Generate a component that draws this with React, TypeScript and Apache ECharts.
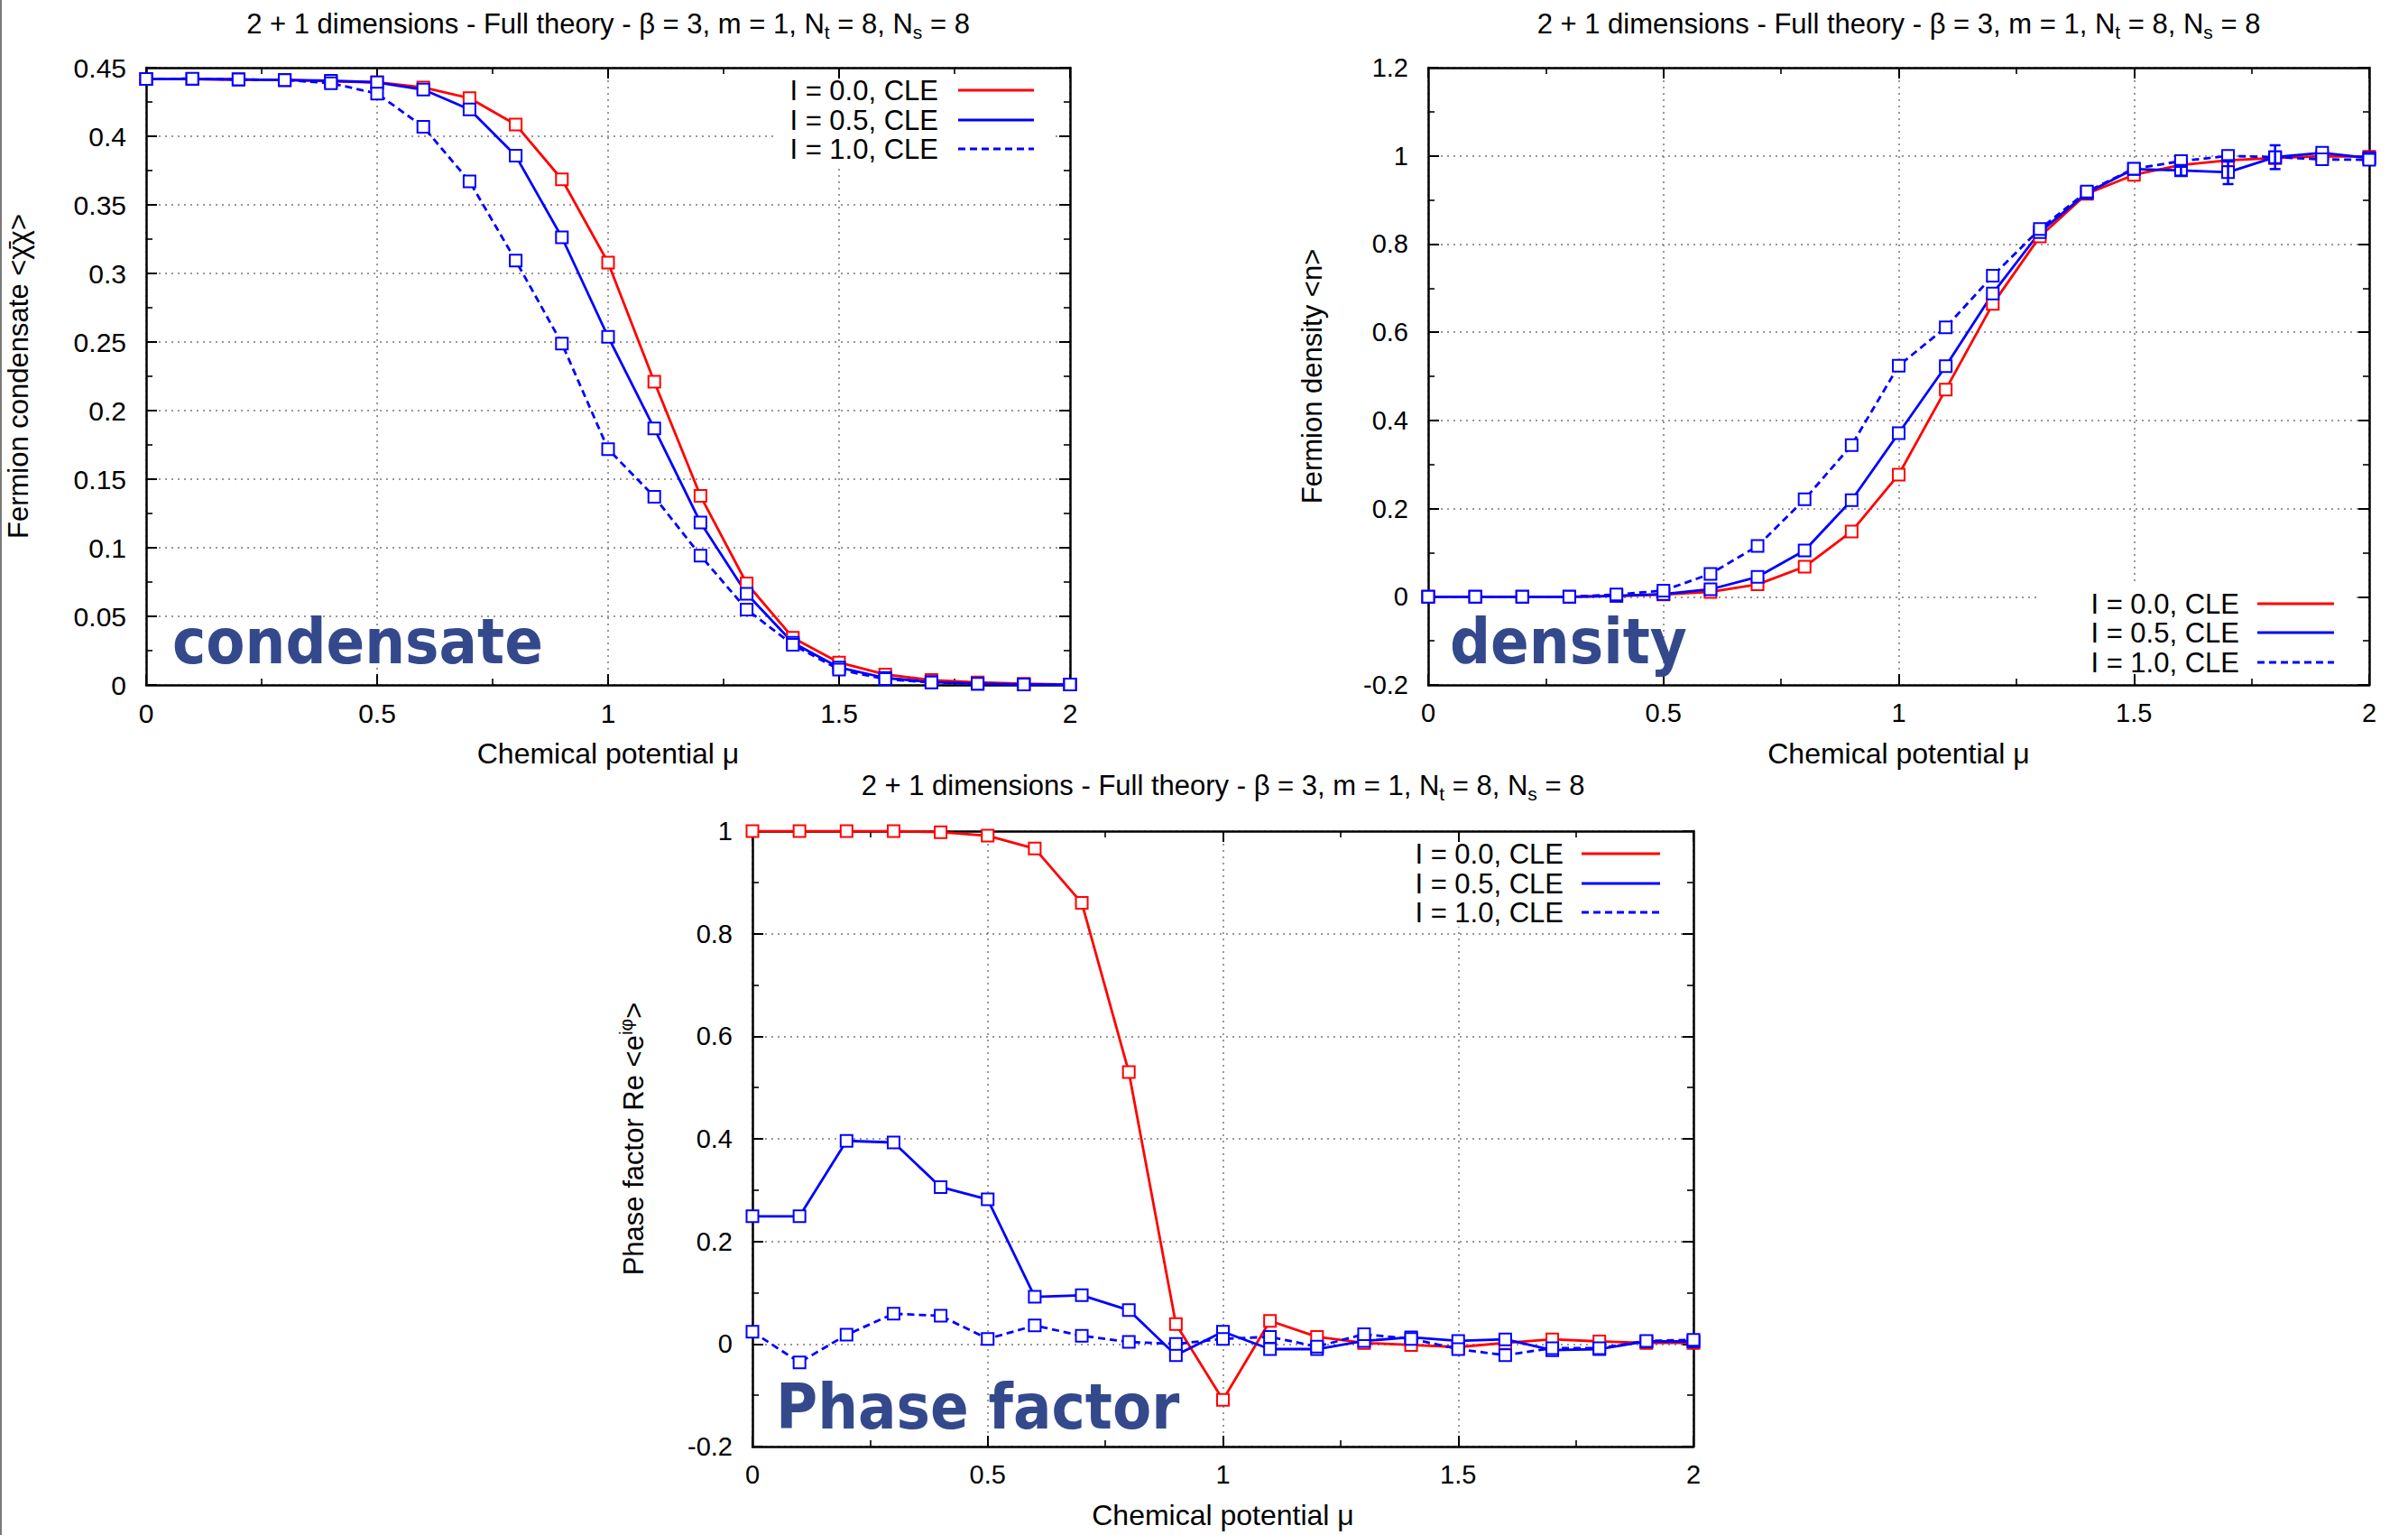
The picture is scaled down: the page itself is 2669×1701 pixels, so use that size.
import React, { useEffect, useRef } from "react";
import * as echarts from "echarts";

// ---------------- data ----------------
const mu = [0, 0.1, 0.2, 0.3, 0.4, 0.5, 0.6, 0.7, 0.8, 0.9, 1.0, 1.1, 1.2, 1.3, 1.4, 1.5, 1.6, 1.7, 1.8, 1.9, 2.0];
const seriesNames = ["I = 0.0, CLE", "I = 0.5, CLE", "I = 1.0, CLE"];

const condI00 = [0.4417, 0.4417, 0.4414, 0.441, 0.44, 0.4393, 0.4356, 0.4278, 0.4085, 0.3686, 0.3079, 0.2211, 0.1378, 0.074, 0.0344, 0.0163, 0.0076, 0.0036, 0.0018, 0.0009, 0.0003];
const condI05 = [0.4417, 0.4417, 0.4414, 0.441, 0.4405, 0.4393, 0.434, 0.4196, 0.3858, 0.3263, 0.2538, 0.187, 0.1184, 0.0665, 0.0308, 0.0127, 0.0051, 0.0021, 0.0009, 0.0003, 0.0003];
const condI10 = [0.4417, 0.442, 0.4414, 0.441, 0.4387, 0.4311, 0.4069, 0.3671, 0.3094, 0.2489, 0.1719, 0.1372, 0.0943, 0.055, 0.0293, 0.0112, 0.0042, 0.0018, 0.0009, 0.0003, 0.0003];

const densI00 = [0, 0, 0, 0, 0.002, 0.005, 0.011, 0.028, 0.068, 0.148, 0.277, 0.47, 0.664, 0.817, 0.914, 0.957, 0.979, 0.99, 0.995, 0.999, 0.998];
const densI05 = [0, 0, 0, 0, 0.002, 0.006, 0.017, 0.045, 0.105, 0.219, 0.371, 0.523, 0.688, 0.827, 0.916, 0.97, 0.967, 0.963, 0.997, 1.007, 0.995];
const densI10 = [0, 0, 0, 0, 0.005, 0.014, 0.052, 0.115, 0.221, 0.344, 0.524, 0.611, 0.728, 0.834, 0.919, 0.971, 0.988, 1.0, 0.997, 0.992, 0.991];

const phaseI00 = [1.0, 1.0, 1.0, 1.0, 0.998, 0.991, 0.966, 0.86, 0.53, 0.039, -0.109, 0.045, 0.014, 0.002, -0.002, -0.006, 0.002, 0.009, 0.005, 0.002, 0.002];
const phaseI05 = [0.249, 0.249, 0.396, 0.393, 0.306, 0.282, 0.092, 0.095, 0.066, -0.022, 0.024, -0.01, -0.01, 0.006, 0.013, 0.006, 0.009, -0.012, -0.01, 0.005, 0.005];
const phaseI10 = [0.024, -0.036, 0.018, 0.059, 0.055, 0.01, 0.036, 0.016, 0.004, 0.0, 0.01, 0.014, -0.005, 0.019, 0.01, -0.01, -0.022, -0.008, -0.008, 0.006, 0.008];

// error bars [mu, value, error]
const densErrI05 = [[1.6, 0.967, 0.012], [1.7, 0.963, 0.027]];
const densErrI10 = [[1.8, 0.997, 0.027]];

// axis ranges [min, max, interval]
const xRange = [0, 2, 0.5];
const condRange = [0, 0.45, 0.05];
const densRange = [-0.2, 1.2, 0.2];
const phaseRange = [-0.2, 1, 0.2];

const titleText = "{a|2 + 1 dimensions - Full theory - β = 3, m = 1, N}{s|t}{a| = 8, N}{s|s}{a| = 8}";
const xName = "Chemical potential μ";
const yNames = ["Fermion condensate <χ̄χ>", "Fermion density <n>", "{a|Phase factor Re <e}{p|iφ}{a|>}"];
const tags = ["condensate", "density", "Phase factor"];

// ---------------- styling / layout ----------------
const FONT = "Liberation Sans, Arial, Helvetica, sans-serif";
const RED = "#ff0000";
const BLUE = "#0000ff";
const colors = [RED, BLUE, BLUE];
const TAG_COLOR = "#34498c";

const panels = [
  {
    grid: { left: 162, top: 75, width: 1024, height: 684 },
    yRange: condRange,
    series: [condI00, condI05, condI10],
    errs: [[], [], []],
    yNameGap: 126,
    tickFont: 30,
    legend: { textRight: 1040, x1: 1062, x2: 1146, rows: [100, 133, 165], box: [860, 89, 310, 93] },
    tag: { x: 191, baseline: 735 },
    titleY: 26,
  },
  {
    grid: { left: 1583, top: 75, width: 1043, height: 684 },
    yRange: densRange,
    series: [densI00, densI05, densI10],
    errs: [[], densErrI05, densErrI10],
    yNameGap: 113,
    tickFont: 29,
    legend: { textRight: 2482, x1: 2502, x2: 2587, rows: [669, 701, 734], box: [2259, 647, 352, 98] },
    tag: { x: 1607, baseline: 735 },
    titleY: 26,
  },
  {
    grid: { left: 834, top: 921, width: 1043, height: 682 },
    yRange: phaseRange,
    series: [phaseI00, phaseI05, phaseI10],
    errs: [[], [], []],
    yNameGap: 112,
    tickFont: 29,
    legend: { textRight: 1733, x1: 1753, x2: 1840, rows: [946, 979, 1011], box: [1554, 935, 310, 92] },
    tag: { x: 860, baseline: 1583 },
    titleY: 870,
  },
];

function buildOption() {
  const grids: any[] = [];
  const xAxes: any[] = [];
  const yAxes: any[] = [];
  const series: any[] = [];
  const graphic: any[] = [];

  graphic.push({ type: "rect", shape: { x: 0, y: 0, width: 2, height: 1701 }, style: { fill: "#7a7a7a" }, z: 20 });

  const axisLine = { show: true, onZero: false, lineStyle: { color: "#000", width: 2.5 } };
  const axisTick = { show: true, inside: true, length: 12, lineStyle: { color: "#000", width: 2 } };
  const minorTick = { show: true, splitNumber: 2, length: 7, lineStyle: { color: "#000", width: 1.6 } };
  const splitLine = { show: true, lineStyle: { color: "#777", width: 1.5, type: [2, 5] } };

  panels.forEach((p, pi) => {
    grids.push({ ...p.grid, containLabel: false, show: false });
    const [ymin, ymax, yint] = p.yRange;
    const [xmin, xmax, xint] = xRange;

    xAxes.push({
      type: "value", gridIndex: pi, position: "bottom", min: xmin, max: xmax, interval: xint,
      axisLine, axisTick, minorTick, splitLine, minorSplitLine: { show: false },
      axisLabel: { show: true, fontSize: p.tickFont, color: "#000", fontFamily: FONT, margin: 16 },
      name: xName, nameLocation: "middle", nameGap: 60,
      nameTextStyle: { fontSize: 32, color: "#000", fontFamily: FONT },
    });
    xAxes.push({
      type: "value", gridIndex: pi, position: "top", min: xmin, max: xmax, interval: xint,
      axisLine, axisTick, minorTick, splitLine: { show: false }, axisLabel: { show: false },
    });
    const yName = yNames[pi];
    yAxes.push({
      type: "value", gridIndex: pi, position: "left", min: ymin, max: ymax, interval: yint,
      axisLine, axisTick, minorTick, splitLine, minorSplitLine: { show: false },
      axisLabel: { show: true, fontSize: p.tickFont, color: "#000", fontFamily: FONT, margin: 22 },
      name: yName, nameLocation: "middle", nameGap: p.yNameGap, nameRotate: 90,
      nameTextStyle: {
        fontSize: 31, color: "#000", fontFamily: FONT,
        rich: {
          a: { fontSize: 31, color: "#000", fontFamily: FONT },
          p: { fontSize: 21, color: "#000", fontFamily: FONT, padding: [0, 0, 18, 0] },
        },
      },
    });
    yAxes.push({
      type: "value", gridIndex: pi, position: "right", min: ymin, max: ymax, interval: yint,
      axisLine, axisTick, minorTick, splitLine: { show: false }, axisLabel: { show: false },
    });

    p.series.forEach((arr, k) => {
      series.push({
        type: "line",
        name: seriesNames[k],
        xAxisIndex: pi * 2,
        yAxisIndex: pi * 2,
        data: mu.map((m, i) => [m, arr[i]]),
        symbol: "emptyRect",
        symbolSize: 13,
        showSymbol: true,
        silent: true,
        lineStyle: { color: colors[k], width: 2.8, type: k === 2 ? [8, 5] : "solid" },
        itemStyle: { color: colors[k], borderWidth: 2.8 },
        z: 2,
      });
      const errs = p.errs[k];
      if (errs.length) {
        series.push({
          type: "custom",
          xAxisIndex: pi * 2,
          yAxisIndex: pi * 2,
          data: errs,
          silent: true,
          z: 3,
          encode: { x: 0, y: 1 },
          renderItem: (params: any, api: any) => {
            const x = api.value(0), y = api.value(1), e = api.value(2);
            const top = api.coord([x, y + e]);
            const bot = api.coord([x, y - e]);
            const c = 6;
            const st = { stroke: colors[k], lineWidth: 2.5 };
            return {
              type: "group",
              children: [
                { type: "line", shape: { x1: top[0], y1: top[1], x2: bot[0], y2: bot[1] }, style: st },
                { type: "line", shape: { x1: top[0] - c, y1: top[1], x2: top[0] + c, y2: top[1] }, style: st },
                { type: "line", shape: { x1: bot[0] - c, y1: bot[1], x2: bot[0] + c, y2: bot[1] }, style: st },
              ],
            };
          },
        });
      }
    });

    // title
    graphic.push({
      type: "text",
      x: p.grid.left + p.grid.width / 2,
      y: p.titleY,
      z: 20,
      style: {
        text: titleText,
        textAlign: "center",
        textVerticalAlign: "middle",
        fontSize: 31,
        fontFamily: FONT,
        fill: "#000",
        rich: {
          a: { fontSize: 31, fontFamily: FONT, fill: "#000" },
          s: { fontSize: 21, fontFamily: FONT, fill: "#000", padding: [18, 0, 0, 0] },
        },
      },
    });

    // legend
    const L = p.legend;
    graphic.push({ type: "rect", shape: { x: L.box[0], y: L.box[1], width: L.box[2], height: L.box[3] }, style: { fill: "#fff" }, z: 1 });
    seriesNames.forEach((nm, k) => {
      graphic.push({
        type: "text", x: L.textRight, y: L.rows[k], z: 20,
        style: { text: nm, textAlign: "right", textVerticalAlign: "middle", fontSize: 31, fontFamily: FONT, fill: "#000" },
      });
      graphic.push({
        type: "line", z: 20,
        shape: { x1: L.x1, y1: L.rows[k], x2: L.x2, y2: L.rows[k] },
        style: { stroke: colors[k], lineWidth: 2.8, lineDash: k === 2 ? [8, 5] : null },
      });
    });

    // tag
    const fs = 70;
    graphic.push({
      type: "text", x: p.tag.x, y: p.tag.baseline - 0.346 * fs, z: 20,
      style: {
        text: tags[pi], textAlign: "left", textVerticalAlign: "middle",
        fontSize: fs, fontWeight: "bold", fontFamily: "DejaVu Sans Condensed, DejaVu Sans, sans-serif", fill: TAG_COLOR,
      },
    });
  });

  return {
    animation: false,
    backgroundColor: "#ffffff",
    grid: grids,
    xAxis: xAxes,
    yAxis: yAxes,
    series,
    graphic,
  };
}

export default function App() {
  const ref = useRef<HTMLDivElement>(null);
  useEffect(() => {
    if (!ref.current) return;
    const chart = echarts.init(ref.current, null, { renderer: "svg" });
    chart.setOption(buildOption() as any);
    return () => chart.dispose();
  }, []);
  return (
    <div
      ref={ref}
      style={{ position: "absolute", left: 0, top: 0, width: "2669px", height: "1701px", background: "#fff" }}
    />
  );
}
